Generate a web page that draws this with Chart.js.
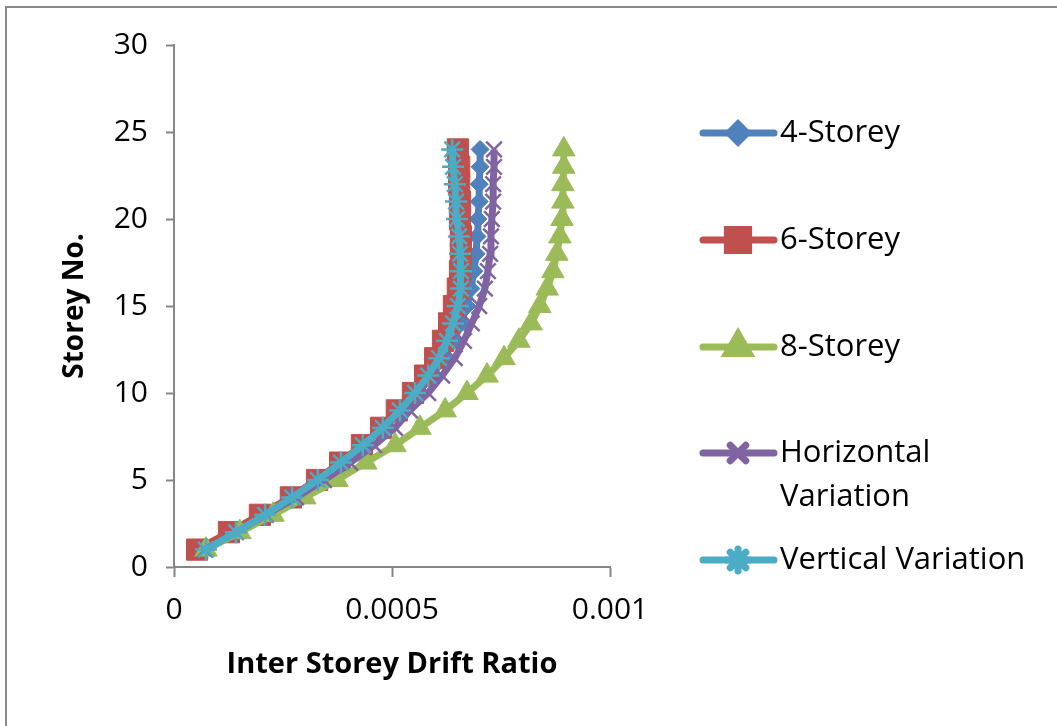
<!DOCTYPE html>
<html>
<head>
<meta charset="utf-8">
<script src="https://cdn.jsdelivr.net/npm/chart.js@4/dist/chart.umd.min.js"></script>
<style>
  html, body { margin: 0; padding: 0; background: #ffffff; }
  #wrap { position: relative; width: 1057px; height: 726px; overflow: hidden; }
  #frame { position: absolute; left: 5px; top: 6px; width: 1100px; height: 800px;
           border-left: 2px solid #8a8a8a; border-top: 2px solid #8a8a8a; pointer-events: none; }
  canvas { position: absolute; left: 0; top: 0; }
</style>
</head>
<body>
<div id="wrap">
  <canvas id="c" width="1057" height="726"></canvas>
  <div id="frame"></div>
</div>
<script>
// ---- data ----
const storeys = [1,2,3,4,5,6,7,8,9,10,11,12,13,14,15,16,17,18,19,20,21,22,23,24];

const fourStorey = [0.0000711,0.000140,0.000206,0.000268,0.000326,0.000381,0.000433,0.000482,
  0.000523,0.000560,0.000592,0.000619,0.000642,0.000658,0.000672,0.000681,0.000688,0.000693,
  0.000695,0.000697,0.000700,0.000700,0.000702,0.000702];

const sixStorey = [0.000053,0.000126,0.000197,0.000268,0.000328,0.000381,0.000431,0.000475,
  0.000511,0.000548,0.000576,0.000599,0.000617,0.000631,0.000642,0.000651,0.000656,0.000658,
  0.000658,0.000656,0.000656,0.000654,0.000654,0.000651];

const eightStorey = [0.0000734,0.000151,0.000227,0.000300,0.000374,0.000440,0.000507,0.000564,
  0.000622,0.000672,0.000718,0.000757,0.000791,0.000819,0.000839,0.000856,0.000869,0.000878,
  0.000885,0.000890,0.000892,0.000892,0.000894,0.000894];

const horizontalVariation = [0.0000711,0.000142,0.000211,0.000280,0.000344,0.000404,0.000459,0.000507,
  0.000541,0.000583,0.000615,0.000644,0.000665,0.000683,0.000700,0.000713,0.000720,0.000725,
  0.000727,0.000729,0.000732,0.000732,0.000734,0.000734];

const verticalVariation = [0.0000734,0.000142,0.000209,0.000271,0.000330,0.000383,0.000433,0.000479,
  0.000518,0.000553,0.000583,0.000608,0.000626,0.000640,0.000651,0.000658,0.000658,0.000656,
  0.000654,0.000649,0.000647,0.000644,0.000640,0.000638];

const seriesNames = ['4-Storey','6-Storey','8-Storey','Horizontal Variation','Vertical Variation'];
const xTickValues = [0, 0.0005, 0.001];
const xTickLabels = ['0', '0.0005', '0.001'];
const yTickValues = [0, 5, 10, 15, 20, 25, 30];

// ---- styling ----
const FONT = '"Open Sans", Lato, "DejaVu Sans", sans-serif';
const styles = [
  { color: '#4F81BD', pointStyle: 'rectRot',  radius: 9,  pw: 1 },
  { color: '#C0504D', pointStyle: 'rect',     radius: 15, pw: 1 },
  { color: '#9BBB59', pointStyle: 'triangle', radius: 13, pw: 1 },
  { color: '#8064A2', pointStyle: 'crossRot', radius: 11, pw: 2.5 },
  { color: '#4BACC6', pointStyle: 'star',     radius: 11, pw: 2.5 }
];
const seriesValues = [fourStorey, sixStorey, eightStorey, horizontalVariation, verticalVariation];

const datasets = seriesValues.map((vals, i) => ({
  label: seriesNames[i],
  data: vals.map((v, k) => ({ x: v, y: storeys[k] })),
  borderColor: styles[i].color,
  backgroundColor: styles[i].color,
  borderWidth: 7,
  pointStyle: styles[i].pointStyle,
  pointRadius: styles[i].radius,
  pointBackgroundColor: styles[i].color,
  pointBorderColor: styles[i].color,
  pointBorderWidth: styles[i].pw,
  tension: 0,
  clip: false,
  order: 5 - i
}));

const legendPlugin = {
  id: 'customLegend',
  afterDraw(chart) {
    const ctx = chart.ctx;
    const rows = [
      { y: 133, lines: ['4-Storey'] },
      { y: 240, lines: ['6-Storey'] },
      { y: 347, lines: ['8-Storey'] },
      { y: 453, lines: ['Horizontal', 'Variation'] },
      { y: 560, lines: ['Vertical Variation'] }
    ];
    rows.forEach((r, i) => {
      const st = styles[i];
      ctx.save();
      ctx.strokeStyle = st.color;
      ctx.fillStyle = st.color;
      ctx.lineWidth = 7;
      ctx.lineCap = 'round';
      ctx.beginPath();
      ctx.moveTo(703, r.y);
      ctx.lineTo(774, r.y);
      ctx.stroke();
      Chart.helpers.drawPoint(ctx, {
        pointStyle: st.pointStyle, radius: st.radius, rotation: 0, borderWidth: st.pw
      }, 738, r.y);
      ctx.restore();
      ctx.save();
      ctx.fillStyle = '#000000';
      ctx.font = '31px ' + FONT;
      ctx.textBaseline = 'middle';
      ctx.textAlign = 'left';
      r.lines.forEach((t, j) => ctx.fillText(t, 780, r.y + j * 44));
      ctx.restore();
    });
  }
};

new Chart(document.getElementById('c'), {
  type: 'line',
  data: { datasets },
  options: {
    responsive: false,
    animation: false,
    devicePixelRatio: 1,
    layout: { padding: { left: 0, top: 45, right: 447, bottom: 0 } },
    plugins: { legend: { display: false }, tooltip: { enabled: false } },
    scales: {
      x: {
        type: 'linear',
        min: 0, max: 0.001,
        afterFit(s) { s.height = 159; },
        afterBuildTicks(s) { s.ticks = xTickValues.map(v => ({ value: v })); },
        ticks: {
          callback: (v, i) => xTickLabels[i],
          font: { family: FONT, size: 30 },
          color: '#000000',
          padding: 15,
          maxRotation: 0,
          autoSkip: false
        },
        grid: { display: true, drawOnChartArea: false, drawTicks: true, tickLength: 10,
                tickColor: '#868686', tickWidth: 2 },
        border: { display: true, color: '#868686', width: 2 },
        title: { display: true, text: 'Inter Storey Drift Ratio', color: '#000000',
                 font: { family: FONT, size: 29, weight: 'bold' },
                 padding: { top: 0, bottom: 44 } }
      },
      y: {
        type: 'linear',
        min: 0, max: 30,
        afterFit(s) { s.width = 174; },
        afterBuildTicks(s) { s.ticks = yTickValues.map(v => ({ value: v })); },
        ticks: {
          font: { family: FONT, size: 30 },
          color: '#000000',
          padding: 18,
          autoSkip: false
        },
        grid: { display: true, drawOnChartArea: false, drawTicks: true, tickLength: 8,
                tickColor: '#868686', tickWidth: 2 },
        border: { display: true, color: '#868686', width: 2 },
        title: { display: true, text: 'Storey No.', color: '#000000',
                 font: { family: FONT, size: 28, weight: 'bold' },
                 padding: { top: 58, bottom: 0 } }
      }
    }
  },
  plugins: [legendPlugin]
});
</script>
</body>
</html>
